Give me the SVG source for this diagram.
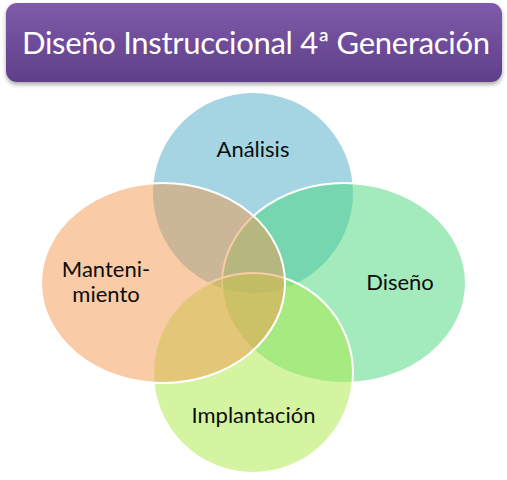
<svg xmlns="http://www.w3.org/2000/svg" width="507" height="480" viewBox="0 0 507 480">
<defs>
<linearGradient id="titleGrad" x1="0" y1="0" x2="0" y2="1">
<stop offset="0" stop-color="#7f5bab"/>
<stop offset="1" stop-color="#5f3f88"/>
</linearGradient>
<filter id="shadow" x="-5%" y="-20%" width="110%" height="150%">
<feDropShadow dx="0" dy="2.5" stdDeviation="2" flood-color="#000" flood-opacity="0.35"/>
</filter>
<style>
.lbl{font-family:Lato,"Open Sans","Liberation Sans",sans-serif;font-size:22px;fill:#0d0d0d;text-anchor:middle}
.title{font-family:Lato,"Open Sans","Liberation Sans",sans-serif;font-size:31px;fill:#ffffff;text-anchor:middle}
.shape{fill-opacity:0.5}
.edge{stroke:#ffffff;stroke-width:2}
</style>
</defs>
<rect width="507" height="480" fill="#ffffff"/>
<g id="title">
<rect x="6" y="3" width="496" height="79" rx="11" ry="11" fill="url(#titleGrad)" filter="url(#shadow)"/>
<text class="title" x="256" y="54" textLength="468" lengthAdjust="spacing">Diseño Instruccional 4ª Generación</text>
</g>
<g id="analisis">
<ellipse class="shape" cx="253" cy="193" rx="100" ry="100" fill="#4cabc5"/>
</g>
<g id="diseno">
<ellipse class="shape edge" cx="344" cy="283" rx="122" ry="100" fill="#47d77b"/>
</g>
<g id="implantacion">
<ellipse class="shape edge" cx="253" cy="373" rx="100" ry="100" fill="#abea45"/>
</g>
<g id="mantenimiento">
<ellipse class="shape edge" cx="163" cy="283" rx="122" ry="100" fill="#f3974d"/>
</g>
<g id="labels">
<text class="lbl" x="253" y="157">Análisis</text>
<text class="lbl" x="400" y="290">Diseño</text>
<text class="lbl" x="253.5" y="423">Implantación</text>
<text class="lbl" x="106" y="277">Manteni-</text>
<text class="lbl" x="106" y="302">miento</text>
</g>
<g id="connectors"></g>
</svg>
